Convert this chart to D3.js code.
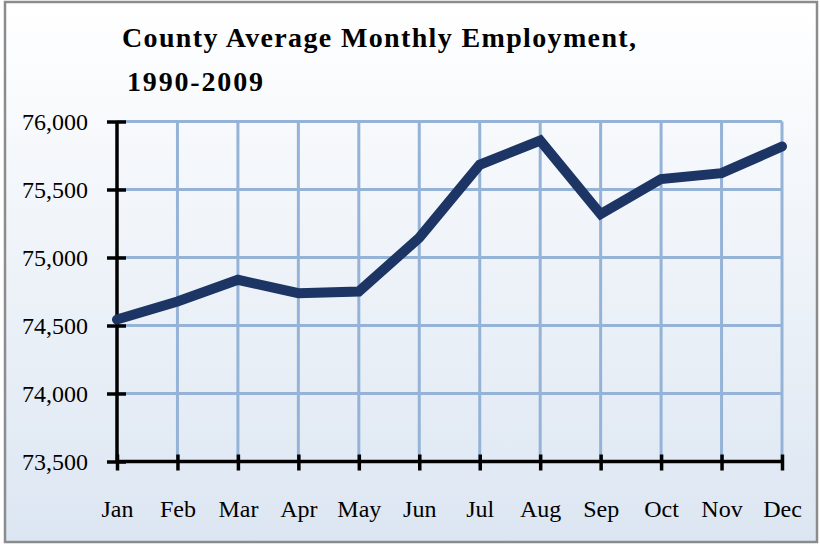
<!DOCTYPE html>
<html><head><meta charset="utf-8">
<script src="https://cdn.jsdelivr.net/npm/d3@7"></script>
<style>html,body{margin:0;padding:0;background:#fff;}svg{display:block;}</style>
</head><body>
<svg id="c" width="820" height="546"></svg>
<script>
const months = ["Jan","Feb","Mar","Apr","May","Jun","Jul","Aug","Sep","Oct","Nov","Dec"];
const employment = [74544, 74677, 74836, 74738, 74750, 75145, 75682, 75860, 75319, 75577, 75620, 75816];
const yTicks = [73500, 74000, 74500, 75000, 75500, 76000];
const titleLines = ["County Average Monthly Employment,", "1990-2009"];

const svg = d3.select("#c");
const defs = svg.append("defs");
const g = defs.append("linearGradient").attr("id","bg").attr("x1",0).attr("y1",0).attr("x2",0).attr("y2",1);
g.append("stop").attr("offset","0%").attr("stop-color","#ffffff");
g.append("stop").attr("offset","100%").attr("stop-color","#dce6f2");

svg.append("rect").attr("x",5).attr("y",2).attr("width",812).attr("height",540)
  .attr("fill","url(#bg)").attr("stroke","#8c8c8c").attr("stroke-width",2.5);

const x = d3.scalePoint().domain(months).range([117, 782]);
const y = d3.scaleLinear().domain([73500, 76000]).range([461.5, 121.5]);

const font = "'Liberation Serif', 'DejaVu Serif', serif";

// grid
svg.append("g").selectAll("line").data(yTicks.slice(1)).join("line")
  .attr("x1", x.range()[0]).attr("x2", x.range()[1])
  .attr("y1", d=>y(d)).attr("y2", d=>y(d))
  .attr("stroke","#95b3d7").attr("stroke-width",3);
svg.append("g").selectAll("line").data(months.slice(1)).join("line")
  .attr("x1", d=>x(d)).attr("x2", d=>x(d))
  .attr("y1", y(76000)).attr("y2", y(73500))
  .attr("stroke","#95b3d7").attr("stroke-width",3);

// axes
const yAxis = svg.append("g").attr("transform",`translate(${x(months[0])},0)`)
  .call(d3.axisLeft(y).tickValues(yTicks).tickFormat(d3.format(",")).tickSize(10).tickPadding(19));
yAxis.select(".domain").attr("stroke","#000").attr("stroke-width",3.5).attr("d",`M0,${y(76000)}V${y(73500)}`);
yAxis.selectAll(".tick line").attr("stroke","#000").attr("stroke-width",3.5).attr("x1",9).attr("x2",-10);
yAxis.selectAll(".tick text").attr("font-family",font).attr("font-size",24).attr("fill","#000").attr("dy","0.32em");

const xAxis = svg.append("g").attr("transform",`translate(0,${y(73500)})`)
  .call(d3.axisBottom(x).tickSize(9).tickPadding(29));
xAxis.select(".domain").attr("stroke","#000").attr("stroke-width",3.5).attr("d",`M${x.range()[0]},0H${x.range()[1]}`);
xAxis.selectAll(".tick line").attr("stroke","#000").attr("stroke-width",3.5).attr("y1",-7).attr("y2",9);
xAxis.selectAll(".tick text").attr("font-family",font).attr("font-size",24).attr("fill","#000");

// line
const line = d3.line().x((d,i)=>x(months[i])).y(d=>y(d));
svg.append("path").datum(employment).attr("d", line)
  .attr("fill","none").attr("stroke","#1c3564").attr("stroke-width",10)
  .attr("stroke-linejoin","miter").attr("stroke-linecap","round");

// title
const tt = svg.append("g").attr("font-family",font).attr("font-weight","bold").attr("font-size",28).attr("fill","#000");
tt.append("text").attr("x",122).attr("y",47).attr("textLength",514).attr("lengthAdjust","spacing").text(titleLines[0]);
tt.append("text").attr("x",127).attr("y",91).attr("textLength",136).attr("lengthAdjust","spacing").text(titleLines[1]);
</script>
</body></html>
